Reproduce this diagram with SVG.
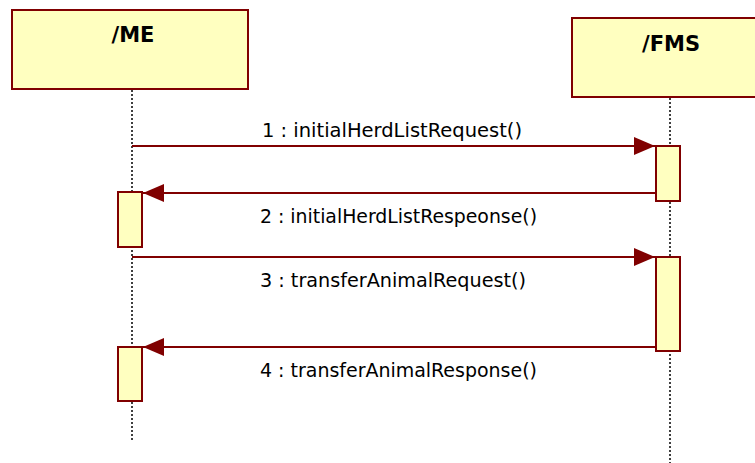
<svg xmlns="http://www.w3.org/2000/svg" width="755" height="463" viewBox="0 0 755 463">
  <style>
    .head { fill: #FFFFC0; stroke: #800000; stroke-width: 2; }
    .act { fill: #FFFFC0; stroke: #800000; stroke-width: 2; }
    .life { stroke: #000; stroke-width: 1.5; stroke-dasharray: 2 2; fill: none; }
    .msg { stroke: #800000; stroke-width: 2; fill: none; }
    .title { font-family: "DejaVu Sans", sans-serif; font-weight: bold; font-size: 21px; fill: #000; text-anchor: middle; }
    .lbl { font-family: "DejaVu Sans Condensed", "DejaVu Sans", sans-serif; font-size: 20px; fill: #000; }
  </style>
  <defs>
    <marker id="arrow" markerUnits="userSpaceOnUse" markerWidth="22" markerHeight="18" refX="21" refY="9" orient="auto">
      <path d="M0,0 L21,9 L0,18 Z" fill="#800000"/>
    </marker>
  </defs>
  <rect width="755" height="463" fill="#fff"/>

  <g id="ME">
    <line class="life" x1="132" y1="90" x2="132" y2="442"/>
    <rect class="head" x="12" y="10" width="236" height="79"/>
    <text class="title" x="133" y="42">/ME</text>
    <rect class="act" x="118" y="192" width="24" height="55"/>
    <rect class="act" x="118" y="347" width="24" height="54"/>
  </g>

  <g id="FMS">
    <line class="life" x1="670" y1="98" x2="670" y2="463"/>
    <rect class="head" x="572" y="18" width="190" height="79"/>
    <text class="title" x="671" y="51">/FMS</text>
    <rect class="act" x="656" y="146" width="24" height="55"/>
    <rect class="act" x="656" y="257" width="24" height="94"/>
  </g>

  <g id="connectors">
    <line class="msg" x1="132" y1="146" x2="655" y2="146" marker-end="url(#arrow)"/>
    <line class="msg" x1="656" y1="193" x2="143" y2="193" marker-end="url(#arrow)"/>
    <line class="msg" x1="132" y1="257" x2="655" y2="257" marker-end="url(#arrow)"/>
    <line class="msg" x1="656" y1="347" x2="143" y2="347" marker-end="url(#arrow)"/>
    <text class="lbl" x="262" y="137" textLength="260" lengthAdjust="spacingAndGlyphs">1 : initialHerdListRequest()</text>
    <text class="lbl" x="260" y="223" textLength="277" lengthAdjust="spacingAndGlyphs">2 : initialHerdListRespeonse()</text>
    <text class="lbl" x="260" y="287" textLength="266" lengthAdjust="spacingAndGlyphs">3 : transferAnimalRequest()</text>
    <text class="lbl" x="260" y="377" textLength="277" lengthAdjust="spacingAndGlyphs">4 : transferAnimalResponse()</text>
  </g>
</svg>
